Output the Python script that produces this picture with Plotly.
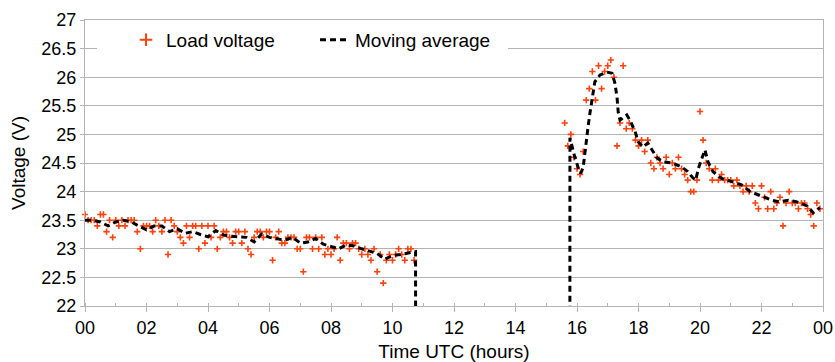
import plotly.graph_objects as go

# ---------------- data ----------------
# Load voltage samples, segment 1 (00:00 - 10:42, every 0.1 h)
seg1_start = 0.0
seg1_volts = [
    23.6, 23.5, 23.5, 23.5, 23.4, 23.6, 23.6, 23.3, 23.5, 23.2,
    23.5, 23.4, 23.5, 23.4, 23.5, 23.5, 23.5, 23.3, 23.0, 23.4,
    23.4, 23.4, 23.3, 23.5, 23.4, 23.3, 23.5, 22.9, 23.5, 23.4,
    23.3, 23.2, 23.1, 23.4, 23.2, 23.4, 23.4, 23.0, 23.4, 23.1,
    23.4, 23.2, 23.4, 23.0, 23.2, 23.3, 23.3, 23.2, 23.1, 23.3,
    23.3, 23.1, 23.3, 23.0, 22.9, 23.2, 23.3, 23.3, 23.2, 23.3,
    23.3, 22.8, 23.2, 23.3, 23.1, 23.1, 23.2, 23.2, 23.2, 23.0,
    23.0, 22.6, 23.2, 23.2, 23.0, 23.2, 23.0, 23.2, 22.9, 23.0,
    22.9, 23.0, 23.2, 22.8, 23.1, 23.1, 23.0, 23.1, 23.1, 23.0,
    22.9, 23.0, 22.9, 22.8, 23.0, 22.6, 22.9, 22.4, 22.8, 22.9,
    22.8, 22.9, 23.0, 22.9, 22.8, 23.0, 23.0, 22.8,
]
# Load voltage samples, segment 2 (15:36 - 23:54, every 0.1 h)
seg2_start = 15.6
seg2_volts = [
    25.2, 24.8, 25.0, 24.6,
    24.4, 24.3, 24.7, 25.6, 25.8, 26.1, 25.6, 26.2, 25.8, 26.1,
    26.2, 26.3, 26.0, 24.8, 25.2, 26.2, 25.1, 25.2, 25.1, 24.9,
    24.8, 24.9, 24.7, 24.9, 24.5, 24.4, 24.6, 24.5, 24.4, 24.6,
    24.3, 24.5, 24.4, 24.6, 24.4, 24.3, 24.2, 24.0, 24.0, 24.2,
    25.4, 24.9, 24.5, 24.4, 24.2, 24.4, 24.2, 24.3, 24.2, 24.2,
    24.2, 24.1, 24.2, 24.1, 24.0, 24.1, 24.0, 24.1, 23.8, 23.7,
    24.1, 23.9, 23.7, 24.0, 23.7, 23.8, 23.9, 23.4, 23.8, 24.0,
    23.8, 23.8, 23.7, 23.8, 23.8, 23.7, 23.6, 23.4, 23.8, 23.7,
]
sample_step = 0.1

# Moving average (hours, volts); the gap is where the average falls to zero
ma_hours = [
    0.0, 0.25, 0.5, 0.75, 1.0, 1.25, 1.5, 1.75, 2.0, 2.25, 2.5, 2.75,
    3.0, 3.25, 3.5, 3.75, 4.0, 4.25, 4.5, 4.75, 5.0, 5.25, 5.5, 5.75,
    6.0, 6.25, 6.5, 6.75, 7.0, 7.25, 7.5, 7.75, 8.0, 8.25, 8.5, 8.75,
    9.0, 9.25, 9.5, 9.75, 10.0, 10.25, 10.5, 10.75, 10.77,
    15.76, 15.77, 15.85, 15.93, 16.05, 16.12, 16.2, 16.26, 16.36, 16.42,
    16.5, 16.58, 16.75, 16.97, 17.14, 17.23, 17.3, 17.34, 17.4, 17.62,
    17.72, 17.89, 17.99, 18.15, 18.3, 18.43, 18.6, 18.8, 19.1, 19.4,
    19.6, 19.75, 19.86, 19.95, 20.07, 20.16, 20.26, 20.42, 20.7, 21.07,
    21.35, 21.63, 21.9, 22.1, 22.33, 22.6, 22.87, 23.15, 23.48, 23.68, 23.9,
]
ma_volts = [
    23.5, 23.5, 23.47, 23.4, 23.47, 23.5, 23.47, 23.4, 23.33, 23.4, 23.4, 23.3,
    23.35, 23.27, 23.3, 23.25, 23.21, 23.32, 23.24, 23.22, 23.21, 23.2, 23.12, 23.26,
    23.2, 23.18, 23.15, 23.2, 23.1, 23.12, 23.18, 23.08, 23.04, 23.0, 23.07, 23.05,
    23.0, 22.96, 22.92, 22.82, 22.88, 22.9, 22.92, 22.95, 0.0,
    0.0, 24.94, 24.75, 24.6, 24.4, 24.32, 24.42, 24.73, 25.13, 25.37,
    25.66, 25.92, 26.04, 26.09, 26.07, 25.9, 25.66, 25.39, 25.25, 25.34,
    25.25, 25.05, 24.87, 24.78, 24.85, 24.73, 24.59, 24.52, 24.5, 24.43,
    24.35, 24.25, 24.2, 24.41, 24.6, 24.73, 24.52, 24.35, 24.23, 24.17,
    24.12, 24.0, 23.94, 23.9, 23.85, 23.82, 23.85, 23.82, 23.75, 23.63, 23.72,
]

x_tickvals = [0, 2, 4, 6, 8, 10, 12, 14, 16, 18, 20, 22, 24]
x_ticktext = ["00", "02", "04", "06", "08", "10", "12", "14", "16", "18", "20", "22", "00"]

# ---------------- build ----------------
load_hours = [round(seg1_start + i * sample_step, 3) for i in range(len(seg1_volts))] + \
             [round(seg2_start + i * sample_step, 3) for i in range(len(seg2_volts))]
load_volts = seg1_volts + seg2_volts

FONT = "Liberation Sans, Arial, sans-serif"
GRID = "#b3b3b3"
ORANGE = "#ff420e"

fig = go.Figure()
# legend proxy (larger symbol as in the reference legend)
fig.add_trace(go.Scatter(
    x=[None], y=[None], mode="markers", name="Load voltage", legendrank=1,
    marker=dict(symbol="cross-thin", size=9, color=ORANGE,
                line=dict(color=ORANGE, width=2)),
))
fig.add_trace(go.Scatter(
    x=load_hours, y=load_volts, mode="markers", name="Load voltage",
    showlegend=False,
    marker=dict(symbol="cross-thin", size=4.5, color=ORANGE,
                line=dict(color=ORANGE, width=1.6)),
    cliponaxis=False,
))
fig.add_trace(go.Scatter(
    x=ma_hours, y=ma_volts, mode="lines", name="Moving average", legendrank=2,
    line=dict(color="black", width=3, dash="6px,4px"),
))

fig.update_layout(
    width=835, height=362,
    margin=dict(l=85, r=12, t=20, b=56),
    paper_bgcolor="white", plot_bgcolor="white",
    font=dict(family=FONT, size=18, color="black"),
    showlegend=True,
    legend=dict(
        orientation="h", x=(126 - 85) / 738, xanchor="left",
        y=0.997, yanchor="top", bgcolor="rgba(0,0,0,0)",
        font=dict(size=19), entrywidth=144, entrywidthmode="pixels",
    ),
    shapes=[dict(
        type="rect", xref="paper", yref="paper",
        x0=(97 - 85) / 738, x1=(508 - 85) / 738, y0=0.871, y1=0.986,
        fillcolor="white", line=dict(width=0), layer="above",
    )],
)
fig.update_xaxes(
    range=[0, 24], tickmode="array", tickvals=x_tickvals, ticktext=x_ticktext,
    showgrid=False, showline=True, linecolor=GRID, linewidth=1, mirror=True,
    ticks="outside", ticklen=5, tickcolor=GRID, zeroline=False,
    tickfont=dict(size=18),
    minor=dict(tickmode="linear", tick0=0, dtick=1, ticks="inside", ticklen=3,
               tickcolor=GRID, showgrid=False),
    automargin=False,
    title=dict(text="Time UTC (hours)", font=dict(size=19), standoff=12),
)
fig.update_yaxes(
    range=[22, 27], tick0=22, dtick=0.5,
    showgrid=True, gridcolor=GRID, gridwidth=1,
    showline=True, linecolor=GRID, linewidth=1, mirror=True,
    ticks="outside", ticklen=4, tickcolor=GRID, zeroline=False,
    tickfont=dict(size=18),
    automargin=False,
    title=dict(text="Voltage (V)", font=dict(size=19), standoff=10),
)

fig.write_html("out.html")
